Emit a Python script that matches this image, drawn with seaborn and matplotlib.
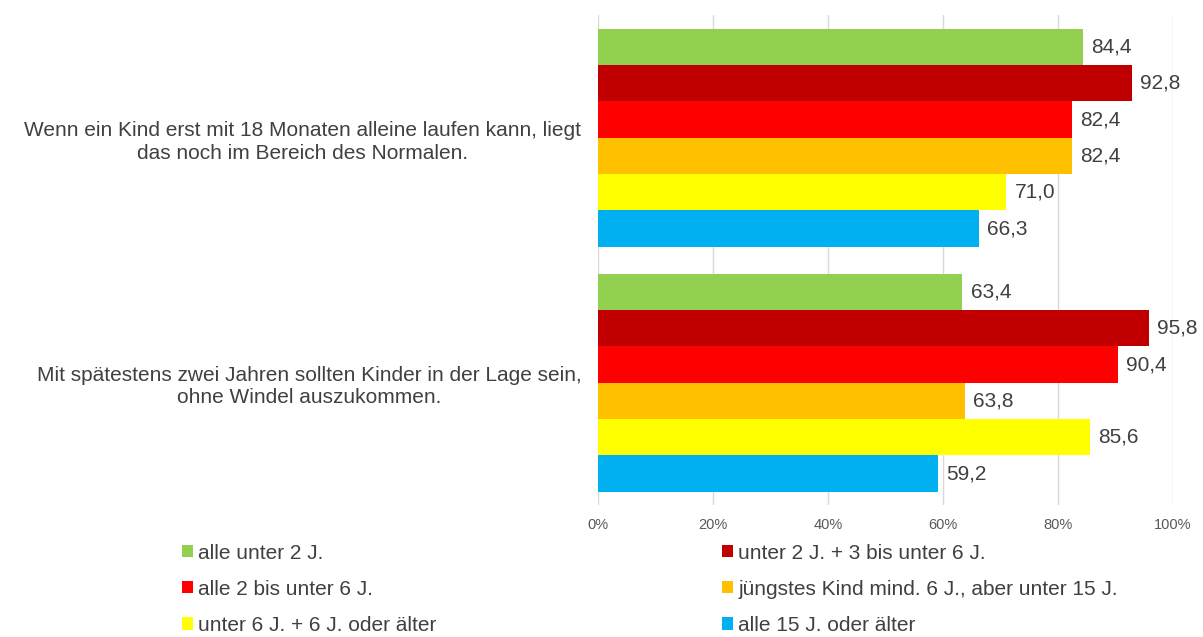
import pandas as pd
import seaborn as sns
from matplotlib import pyplot as plt
from matplotlib.patches import Patch

# Daten
categories = [
    "Wenn ein Kind erst mit 18 Monaten alleine laufen kann, liegt\ndas noch im Bereich des Normalen.",
    "Mit spätestens zwei Jahren sollten Kinder in der Lage sein,\nohne Windel auszukommen.",
]
series = [
    "alle unter 2 J.",
    "unter 2 J. + 3 bis unter 6 J.",
    "alle 2 bis unter 6 J.",
    "jüngstes Kind mind. 6 J., aber unter 15 J.",
    "unter 6 J. + 6 J. oder älter",
    "alle 15 J. oder älter",
]
values_q1 = [84.4, 92.8, 82.4, 82.4, 71.0, 66.3]
values_q2 = [63.4, 95.8, 90.4, 63.8, 85.6, 59.2]
colors = ["#92D050", "#C00000", "#FF0000", "#FFC000", "#FFFF00", "#00B0F0"]
xticks = [0, 20, 40, 60, 80, 100]

sns.set_style("white")
plt.rcParams['font.family'] = ['Liberation Sans', 'DejaVu Sans']
text_color = "#404040"

df = pd.DataFrame({
    'frage': [categories[0]] * len(series) + [categories[1]] * len(series),
    'gruppe': series * 2,
    'wert': values_q1 + values_q2,
})

fig = plt.figure(figsize=(12.03, 6.37), dpi=100)
ax = fig.add_axes([0.497, 0.207, 0.478, 0.769])

sns.barplot(data=df, y='frage', x='wert', hue='gruppe', order=categories,
            hue_order=series, palette=colors, orient='h', width=0.89, gap=0,
            saturation=1, linewidth=0, legend=False, ax=ax)

for cont in ax.containers:
    labs = [f"{v:.1f}".replace('.', ',') for v in cont.datavalues]
    ax.bar_label(cont, labels=labs, padding=6, fontsize=15, color=text_color)

ax.set_xlim(0, 100)
ax.set_ylim(1.5, -0.5)
ax.set_xticks(xticks)
ax.set_xticklabels([f"{t}%" for t in xticks], fontsize=10.5, color="#595959")
ax.set_xlabel('')
ax.set_ylabel('')
ax.grid(axis='x', color='#D9D9D9', linewidth=1)
ax.set_axisbelow(True)
for s in ax.spines.values():
    s.set_visible(False)
ax.tick_params(axis='y', length=0, pad=12)
ax.tick_params(axis='x', length=0, pad=9)
for lab in ax.get_yticklabels():
    lab.set_multialignment('center')
    lab.set_fontsize(15)
    lab.set_linespacing(1.25)
    lab.set_color(text_color)

# Legende in zwei Spalten
handles = [Patch(facecolor=c, edgecolor='none') for c in colors]
legend_kw = dict(loc='upper left', frameon=False, fontsize=15,
                 handlelength=0.53, handleheight=0.53, handletextpad=0.25,
                 labelspacing=0.82, labelcolor=text_color)
left = fig.legend(handles[0::2], series[0::2],
                  bbox_to_anchor=(0.1355, 0.176), **legend_kw)
right = fig.legend(handles[1::2], series[1::2],
                   bbox_to_anchor=(0.5844, 0.176), **legend_kw)

fig.savefig('out.png', dpi=100)
